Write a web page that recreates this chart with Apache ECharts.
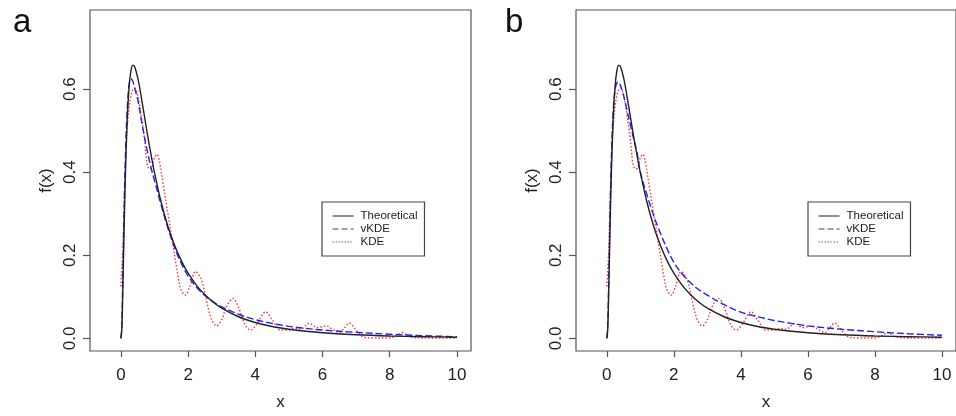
<!DOCTYPE html>
<html>
<head>
<meta charset="utf-8">
<script src="https://cdn.jsdelivr.net/npm/echarts@6/dist/echarts.min.js"></script>
<style>
html,body{margin:0;padding:0;background:#fff;}
#c{width:956px;height:416px;}
</style>
</head>
<body>
<div id="c"></div>
<script>
// ---- data ----
const xTicks = [0, 2, 4, 6, 8, 10];
const yTicks = [0, 0.2, 0.4, 0.6];

// Theoretical density (both panels)
const theoX = [0, 0.025, 0.05, 0.1, 0.15, 0.2, 0.25, 0.3, 0.35, 0.4, 0.5, 0.6, 0.7, 0.8, 0.9, 1.0, 1.2, 1.4, 1.6, 1.8, 2.0, 2.25, 2.5, 2.75, 3, 3.5, 4, 4.5, 5, 5.5, 6, 7, 8, 9, 10];
const theoY = [0, 0.0177, 0.0898, 0.2815, 0.4398, 0.5463, 0.6104, 0.6442, 0.6570, 0.6555, 0.6275, 0.5836, 0.5348, 0.4864, 0.4408, 0.3989, 0.3270, 0.2693, 0.2233, 0.1865, 0.1569, 0.1276, 0.1049, 0.0870, 0.0727, 0.0520, 0.0382, 0.0286, 0.0219, 0.0170, 0.0134, 0.0086, 0.0057, 0.0040, 0.0028];

// vKDE panel a
const vkdeAY = [0, 0.03, 0.12, 0.33, 0.48, 0.57, 0.615, 0.625, 0.62, 0.605, 0.575, 0.53, 0.485, 0.445, 0.41, 0.38, 0.32, 0.265, 0.218, 0.18, 0.15, 0.123, 0.103, 0.088, 0.076, 0.058, 0.045, 0.036, 0.029, 0.024, 0.020, 0.0145, 0.010, 0.0065, 0.004];
// vKDE panel b
const vkdeBY = [0, 0.03, 0.11, 0.32, 0.47, 0.56, 0.60, 0.615, 0.617, 0.61, 0.585, 0.55, 0.515, 0.48, 0.448, 0.40, 0.345, 0.295, 0.253, 0.215, 0.183, 0.155, 0.134, 0.117, 0.104, 0.081, 0.063, 0.052, 0.043, 0.036, 0.030, 0.022, 0.016, 0.011, 0.0075];

// KDE (same in both panels)
const kdeX = [0, 0.05, 0.1, 0.15, 0.2, 0.25, 0.3, 0.35, 0.42, 0.5, 0.6, 0.7, 0.78, 0.85, 0.92, 1.0, 1.08, 1.15, 1.25, 1.4, 1.55, 1.7, 1.8, 1.92, 2.05, 2.22, 2.4, 2.55, 2.7, 2.85, 3.0, 3.15, 3.34, 3.5, 3.7, 3.86, 4.05, 4.31, 4.5, 4.75, 5.0, 5.15, 5.35, 5.6, 5.85, 6.1, 6.3, 6.5, 6.65, 6.8, 6.95, 7.2, 7.5, 8.0, 8.2, 8.38, 8.6, 9.0, 10.0];
const kdeY = [0.125, 0.2, 0.33, 0.45, 0.52, 0.56, 0.585, 0.598, 0.602, 0.585, 0.54, 0.48, 0.42, 0.408, 0.41, 0.435, 0.443, 0.425, 0.375, 0.30, 0.225, 0.15, 0.115, 0.104, 0.125, 0.161, 0.14, 0.09, 0.045, 0.030, 0.045, 0.078, 0.096, 0.075, 0.032, 0.020, 0.035, 0.064, 0.045, 0.020, 0.020, 0.024, 0.022, 0.036, 0.026, 0.030, 0.022, 0.014, 0.025, 0.037, 0.025, 0.004, 0.001, 0.001, 0.006, 0.014, 0.004, 0.001, 0.001];

const seriesNames = ['Theoretical', 'vKDE', 'KDE'];
const panelLetters = ['a', 'b'];
const xName = 'x';
const yName = 'f(x)';

// ---- build ----
function pairs(xs, ys) { return xs.map((x, i) => [x, ys[i]]); }
const FONT = '"Liberation Sans", Arial, Helvetica, sans-serif';
const XMIN = -0.92, XMAX = 10.42, YMIN = -0.0304, YMAX = 0.7904;

const grids = [
  { left: 90, top: 10, width: 381, height: 342 },
  { left: 576, top: 10, width: 381, height: 342 }
].map(g => Object.assign(g, { show: true, borderColor: '#555', borderWidth: 1.2, backgroundColor: 'transparent', containLabel: false }));

function xAx(i) {
  return {
    type: 'value', gridIndex: i, min: XMIN, max: XMAX, position: 'bottom',
    splitLine: { show: false },
    axisLine: { show: false, onZero: false },
    axisTick: { show: true, inside: false, length: 6, customValues: xTicks, lineStyle: { color: '#555', width: 1.2 } },
    axisLabel: { show: true, customValues: xTicks, margin: 16, fontSize: 17, color: '#222', fontFamily: FONT },
    name: xName, nameLocation: 'middle', nameGap: 43,
    nameTextStyle: { fontSize: 17, color: '#222', fontFamily: FONT }
  };
}
function yAx(i) {
  return {
    type: 'value', gridIndex: i, min: YMIN, max: YMAX, position: 'left',
    splitLine: { show: false },
    axisLine: { show: false, onZero: false },
    axisTick: { show: true, inside: false, length: 7, customValues: yTicks, lineStyle: { color: '#555', width: 1.2 } },
    axisLabel: { show: true, customValues: yTicks, rotate: 90, margin: 11, fontSize: 17, color: '#222', fontFamily: FONT,
      formatter: v => v.toFixed(1) },
    name: yName, nameLocation: 'middle', nameGap: 35,
    nameTextStyle: { fontSize: 17, color: '#222', fontFamily: FONT }
  };
}

const styles = [
  { color: '#222222', width: 1.4, type: 'solid' },
  { color: '#2020ff', width: 1.4, type: [7, 3] },
  { color: '#ff3030', width: 1.4, type: [1.5, 2] }
];

const series = [];
[0, 1].forEach(i => {
  const vk = i === 0 ? vkdeAY : vkdeBY;
  const datas = [pairs(theoX, theoY), pairs(theoX, vk), pairs(kdeX, kdeY)];
  [2, 1, 0].forEach(k => {
    series.push({
      name: seriesNames[k], type: 'line', xAxisIndex: i, yAxisIndex: i,
      data: datas[k], symbol: 'none', smooth: 0.35, animation: false,
      lineStyle: styles[k], itemStyle: { color: styles[k].color }, z: 3 + (2 - k)
    });
  });
});

const hidden = { color: 'rgba(0,0,0,0)', borderColor: 'rgba(0,0,0,0)', borderWidth: 0, opacity: 0 };
function legendFor(left) {
  return {
    left: left, top: 202, orient: 'vertical',
    show: true, selectedMode: false,
    borderColor: '#444', borderWidth: 1.2, borderRadius: 0,
    padding: [8, 7, 8, 10],
    itemWidth: 21, itemHeight: 9, itemGap: 1,
    itemStyle: hidden,
    textStyle: { fontSize: 11.5, lineHeight: 12, color: '#222', fontFamily: FONT, padding: [0, 0, 0, 2] },
    data: [
      { name: 'Theoretical', itemStyle: hidden, lineStyle: { color: '#444', type: 'solid', width: 1.2 } },
      { name: 'vKDE', itemStyle: hidden, lineStyle: { color: '#444', type: [6, 3], width: 1.2 } },
      { name: 'KDE', itemStyle: hidden, lineStyle: { color: '#444', type: [1.2, 1.8], width: 1.2 } }
    ]
  };
}

const chart = echarts.init(document.getElementById('c'), null, { renderer: 'canvas' });
chart.setOption({
  backgroundColor: '#fff',
  animation: false,
  title: [
    { text: panelLetters[0], left: 8, top: 1, textStyle: { fontSize: 33, fontWeight: 'normal', color: '#111', fontFamily: FONT } },
    { text: panelLetters[1], left: 500, top: 1, textStyle: { fontSize: 33, fontWeight: 'normal', color: '#111', fontFamily: FONT } }
  ],
  grid: grids,
  xAxis: [xAx(0), xAx(1)],
  yAxis: [yAx(0), yAx(1)],
  legend: [legendFor(322), legendFor(808)],
  series: series
});
</script>
</body>
</html>
